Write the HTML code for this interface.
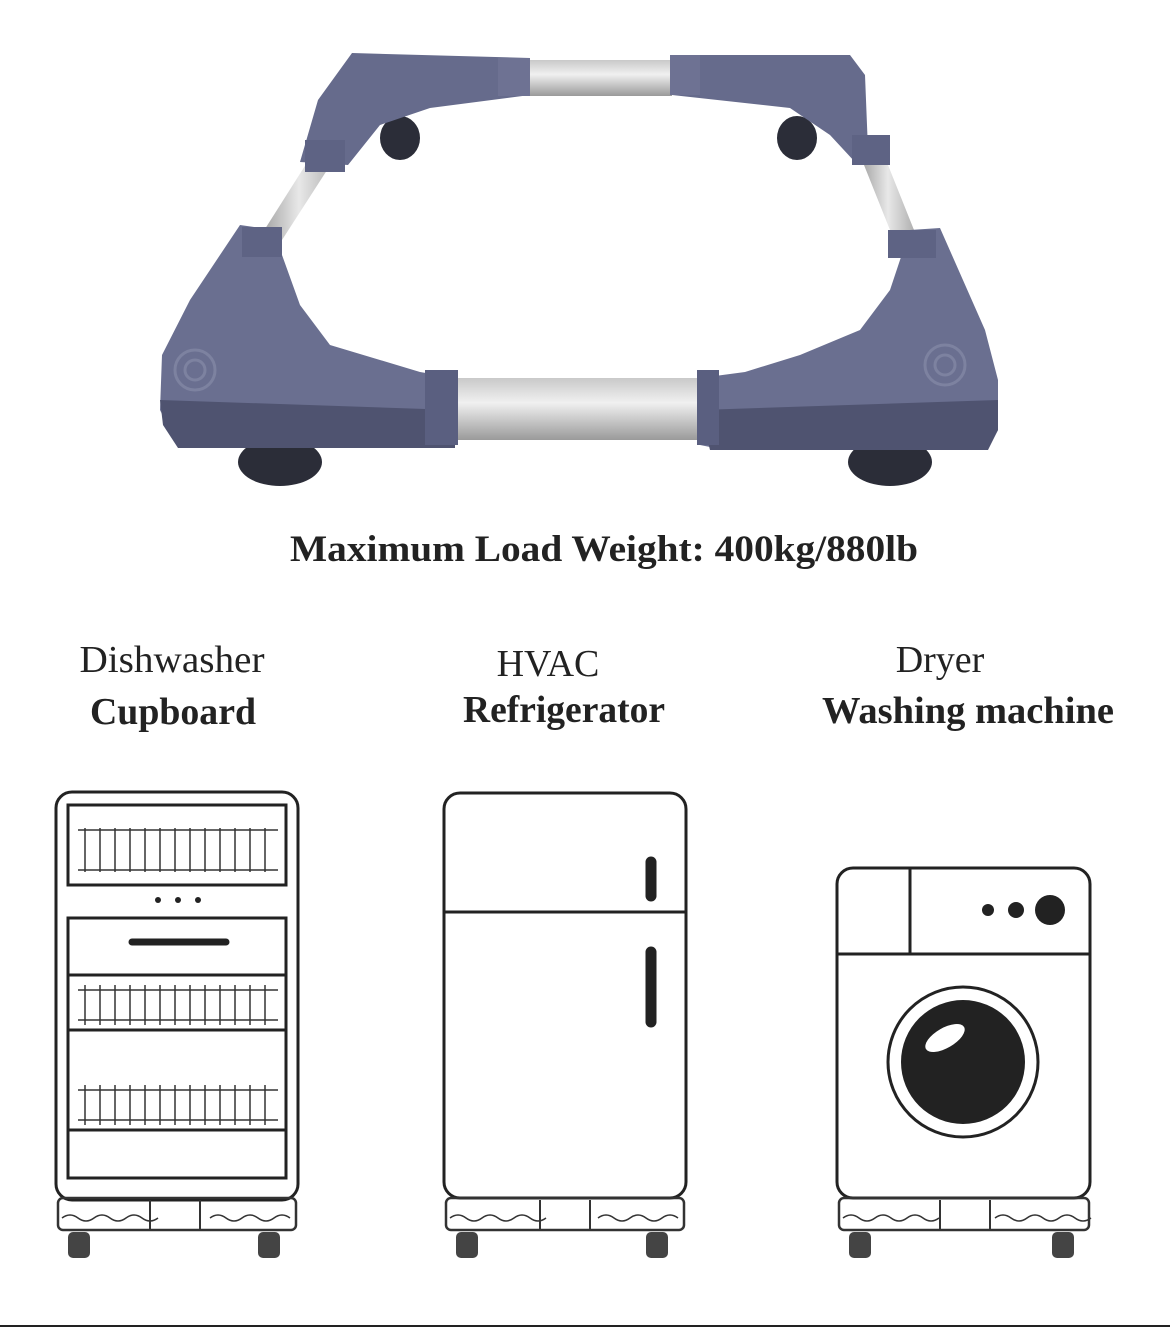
<!DOCTYPE html>
<html><head><meta charset="utf-8"><style>
html,body{margin:0;padding:0;background:#fff;}
svg{display:block}
</style></head><body>
<svg width="1170" height="1327" viewBox="0 0 1170 1327" xmlns="http://www.w3.org/2000/svg" font-family="Liberation Serif, serif">
<rect width="1170" height="1327" fill="#fff"/>
<defs>
<linearGradient id="steel" x1="0" y1="0" x2="0" y2="1">
<stop offset="0" stop-color="#c9c9c9"/><stop offset="0.4" stop-color="#f0f0f0"/><stop offset="1" stop-color="#9a9a9a"/></linearGradient>
<linearGradient id="steelv" x1="0" y1="0" x2="1" y2="0">
<stop offset="0" stop-color="#9a9a9a"/><stop offset="0.5" stop-color="#e8e8e8"/><stop offset="1" stop-color="#a8a8a8"/></linearGradient>
</defs>
<!-- back wheels -->
<ellipse cx="400" cy="138" rx="20" ry="22" fill="#2b2d38"/>
<ellipse cx="797" cy="138" rx="20" ry="22" fill="#2b2d38"/>
<!-- steel bars -->
<polygon points="528,60 672,60 672,96 528,96" fill="url(#steel)"/>
<polygon points="315,150 340,150 282,240 258,240" fill="url(#steelv)"/>
<polygon points="858,150 882,150 918,240 894,240" fill="url(#steelv)"/>
<polygon points="452,378 700,378 700,440 452,440" fill="url(#steel)"/>
<!-- top-left corner -->
<polygon points="352,53 530,58 530,95 430,108 380,125 348,165 300,162 318,100" fill="#666b8c"/>
<rect x="498" y="58" width="32" height="38" fill="#6e7293"/>
<rect x="305" y="140" width="40" height="32" fill="#5e6384"/>
<!-- top-right corner -->
<polygon points="672,55 850,55 865,75 868,150 855,162 830,135 790,108 672,95" fill="#666b8c"/>
<rect x="670" y="55" width="30" height="40" fill="#6e7293"/>
<rect x="852" y="135" width="38" height="30" fill="#5e6384"/>
<!-- front wheels -->
<ellipse cx="280" cy="462" rx="42" ry="24" fill="#2b2d38"/>
<ellipse cx="890" cy="462" rx="42" ry="24" fill="#2b2d38"/>
<!-- bottom-left corner -->
<polygon points="240,225 275,230 282,255 300,305 330,345 380,360 420,372 455,378 455,445 175,440 160,410 162,355 190,300" fill="#6a6f90"/>
<polygon points="160,400 455,410 455,448 178,448 163,425" fill="#4f5370"/>
<rect x="242" y="227" width="40" height="30" fill="#5e6384"/>
<rect x="425" y="370" width="33" height="75" fill="#5a5f80"/>
<circle cx="195" cy="370" r="20" fill="none" stroke="#7d82a0" stroke-width="3"/>
<circle cx="195" cy="370" r="10" fill="none" stroke="#7d82a0" stroke-width="3"/>
<!-- bottom-right corner -->
<polygon points="910,230 940,228 985,330 998,380 998,430 988,448 715,448 700,445 700,378 745,372 800,355 860,330 890,290" fill="#6a6f90"/>
<polygon points="700,410 998,400 998,430 988,450 710,450" fill="#4f5370"/>
<rect x="888" y="230" width="48" height="28" fill="#5e6384"/>
<rect x="697" y="370" width="22" height="75" fill="#5a5f80"/>
<circle cx="945" cy="365" r="20" fill="none" stroke="#7d82a0" stroke-width="3"/>
<circle cx="945" cy="365" r="10" fill="none" stroke="#7d82a0" stroke-width="3"/>

<text x="604" y="561" font-size="37" font-weight="bold" text-anchor="middle" fill="#222" textLength="628" lengthAdjust="spacingAndGlyphs">Maximum Load Weight:  400kg/880lb</text>

<g font-size="38" fill="#222" text-anchor="middle">
<text x="172" y="672" textLength="185" lengthAdjust="spacingAndGlyphs">Dishwasher</text>
<text x="173" y="724" font-weight="bold" textLength="166" lengthAdjust="spacingAndGlyphs">Cupboard</text>
<text x="548" y="676">HVAC</text>
<text x="564" y="722" font-weight="bold" textLength="202" lengthAdjust="spacingAndGlyphs">Refrigerator</text>
<text x="940" y="672">Dryer</text>
<text x="968" y="723" font-weight="bold" textLength="292" lengthAdjust="spacingAndGlyphs">Washing machine</text>
</g>

<g fill="none" stroke="#222" stroke-width="3">
<!-- cupboard -->
<rect x="56" y="792" width="242" height="408" rx="16"/>
<rect x="68" y="805" width="218" height="80"/>
<rect x="68" y="918" width="218" height="260"/>
<line x1="68" y1="1030" x2="286" y2="1030"/>
<line x1="68" y1="1130" x2="286" y2="1130"/>
<line x1="68" y1="975" x2="286" y2="975"/>
<line x1="132" y1="942" x2="226" y2="942" stroke-width="7" stroke-linecap="round"/>
<!-- fridge -->
<rect x="444" y="793" width="242" height="405" rx="16"/>
<line x1="444" y1="912" x2="686" y2="912"/>
<line x1="651" y1="862" x2="651" y2="896" stroke-width="11" stroke-linecap="round"/>
<line x1="651" y1="952" x2="651" y2="1022" stroke-width="11" stroke-linecap="round"/>
<!-- washer -->
<rect x="837" y="868" width="253" height="330" rx="16"/>
<line x1="837" y1="954" x2="1090" y2="954"/>
<line x1="910" y1="868" x2="910" y2="954"/>
<circle cx="963" cy="1062" r="75"/>
</g>
<g fill="#222">
<circle cx="158" cy="900" r="3"/><circle cx="178" cy="900" r="3"/><circle cx="198" cy="900" r="3"/>
<circle cx="988" cy="910" r="6"/><circle cx="1016" cy="910" r="8"/><circle cx="1050" cy="910" r="15"/>
<circle cx="963" cy="1062" r="62"/>
</g>
<ellipse cx="945" cy="1038" rx="22" ry="10" fill="#fff" transform="rotate(-30 945 1038)"/>
<!-- dishes -->
<g fill="none" stroke="#333" stroke-width="1.5">
<path d="M78 830 h200 M78 870 h200 M78 990 h200 M78 1020 h200 M78 1090 h200 M78 1120 h200"/>
<path d="M85 828 v44 M100 828 v44 M115 828 v44 M130 828 v44 M145 828 v44 M160 828 v44 M175 828 v44 M190 828 v44 M205 828 v44 M220 828 v44 M235 828 v44 M250 828 v44 M265 828 v44"/>
<path d="M85 985 v40 M100 985 v40 M115 985 v40 M130 985 v40 M145 985 v40 M160 985 v40 M175 985 v40 M190 985 v40 M205 985 v40 M220 985 v40 M235 985 v40 M250 985 v40 M265 985 v40"/>
<path d="M85 1085 v40 M100 1085 v40 M115 1085 v40 M130 1085 v40 M145 1085 v40 M160 1085 v40 M175 1085 v40 M190 1085 v40 M205 1085 v40 M220 1085 v40 M235 1085 v40 M250 1085 v40 M265 1085 v40"/>
</g>
<!-- bases -->
<g fill="none" stroke="#333" stroke-width="2.5">
<rect x="58" y="1198" width="238" height="32" rx="5"/>
<rect x="446" y="1198" width="238" height="32" rx="5"/>
<rect x="839" y="1198" width="250" height="32" rx="5"/>
<path d="M62 1218 q8 -6 16 0 t16 0 t16 0 t16 0 t16 0 t16 0 M210 1218 q8 -6 16 0 t16 0 t16 0 t16 0 t16 0" stroke-width="1.5"/>
<path d="M450 1218 q8 -6 16 0 t16 0 t16 0 t16 0 t16 0 t16 0 M598 1218 q8 -6 16 0 t16 0 t16 0 t16 0 t16 0" stroke-width="1.5"/>
<path d="M843 1218 q8 -6 16 0 t16 0 t16 0 t16 0 t16 0 t16 0 M995 1218 q8 -6 16 0 t16 0 t16 0 t16 0 t16 0 t16 0" stroke-width="1.5"/>
<path d="M150 1200 v30 M200 1200 v30 M540 1200 v30 M590 1200 v30 M940 1200 v30 M990 1200 v30" stroke-width="2"/>
</g>
<g fill="#444">
<rect x="68" y="1232" width="22" height="26" rx="5"/><rect x="258" y="1232" width="22" height="26" rx="5"/>
<rect x="456" y="1232" width="22" height="26" rx="5"/><rect x="646" y="1232" width="22" height="26" rx="5"/>
<rect x="849" y="1232" width="22" height="26" rx="5"/><rect x="1052" y="1232" width="22" height="26" rx="5"/>
</g>
<rect x="0" y="1325" width="1170" height="2" fill="#222"/>
</svg>
</body></html>
